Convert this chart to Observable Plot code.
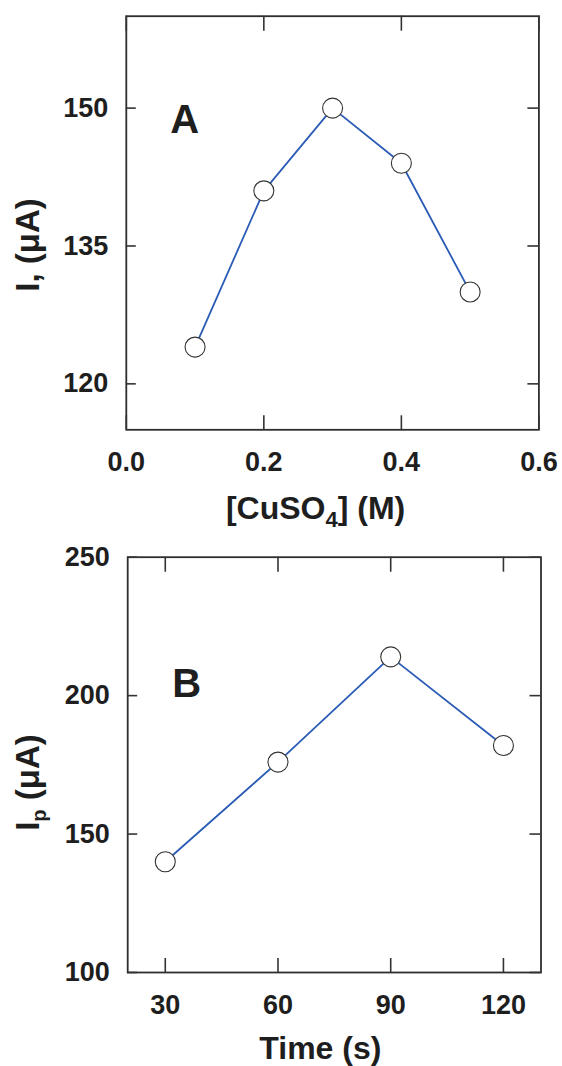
<!DOCTYPE html>
<html>
<head>
<meta charset="utf-8">
<script src="https://cdn.jsdelivr.net/npm/d3@7"></script>
<script src="https://cdn.jsdelivr.net/npm/@observablehq/plot@0.6"></script>
<style>
  html, body { margin: 0; padding: 0; background: #fff; }
  #chart svg { display: block; }
</style>
</head>
<body>
<div id="chart"></div>
<script>
// ---- Data ----
const concA = [0.1, 0.2, 0.3, 0.4, 0.5];          // [CuSO4] (M)
const currentA = [124, 141, 150, 144, 130];       // I (µA)
const timeB = [30, 60, 90, 120];                  // Time (s)
const currentB = [140, 176, 214, 182];            // Ip (µA)

const xTicksA = [0, 0.2, 0.4, 0.6];
const yTicksA = [120, 135, 150];
const xTicksB = [30, 60, 90, 120];
const yTicksB = [100, 150, 200, 250];

const xDomainA = [0, 0.6], yDomainA = [115, 160];
const xDomainB = [20, 130], yDomainB = [100, 250];

const xTitleA = "[CuSO4] (M)", yTitleA = "I, (μA)", panelA = "A";
const xTitleB = "Time (s)", yTitleB = "Ip (μA)", panelB = "B";

// ---- Styling ----
const ink = "#1e1e1e";
const frameInk = "#2e2e2e";
const blue = "#2a5bb5";
const font = "'Liberation Sans', Arial, Helvetica, sans-serif";

function panel({xs, ys, xTicks, yTicks, xDomain, yDomain, xFmt, xTitle, yTitle, label,
                height, margins, xTitleDx, xTitleDy, yTitleDx, yTitleDy, labelDx, labelDy}) {
  const data = xs.map((x, i) => ({x, y: ys[i]}));
  const innerW = 562 - margins.marginLeft - margins.marginRight;
  const innerH = height - margins.marginTop - margins.marginBottom;
  const tk = {stroke: "#333", strokeWidth: 1.6};
  const labStyle = {tickSize: 0, fontSize: 27, fontWeight: "bold", fill: ink, label: null};
  return Plot.plot({
    width: 562,
    height,
    ...margins,
    style: {fontFamily: font, color: ink, overflow: "visible"},
    x: {domain: xDomain},
    y: {domain: yDomain},
    marks: [
      Plot.frame({fill: "none", stroke: frameInk, strokeWidth: 1.8}),
      Plot.axisX(xTicks, {anchor: "bottom", tickPadding: 22, tickFormat: xFmt, ...labStyle}),
      Plot.axisY(yTicks, {anchor: "left", tickPadding: 18, ...labStyle}),
      // inward-pointing ticks on all four sides
      Plot.ruleX(xTicks, {x: d => d, insetTop: innerH - 14, ...tk}),
      Plot.ruleX(xTicks, {x: d => d, insetBottom: innerH - 15, ...tk}),
      Plot.ruleY(yTicks, {y: d => d, insetRight: innerW - 10, ...tk}),
      Plot.ruleY(yTicks, {y: d => d, insetLeft: innerW - 11, ...tk}),
      Plot.line(data, {x: "x", y: "y", stroke: blue, strokeWidth: 1.8}),
      Plot.dot(data, {x: "x", y: "y", r: 10, fill: "#fff", stroke: "#333", strokeWidth: 1.1}),
      Plot.text([label], {text: d => d, frameAnchor: "top-left", textAnchor: "start", lineAnchor: "top",
        dx: labelDx, dy: labelDy, fontSize: 40, fontWeight: "bold", fill: ink}),
      Plot.text([xTitle], {text: d => d, frameAnchor: "bottom", textAnchor: "middle", lineAnchor: "middle",
        dx: xTitleDx, dy: xTitleDy, fontSize: 32, fontWeight: "bold", fill: ink}),
      Plot.text([yTitle], {text: d => d, frameAnchor: "left", rotate: -90, textAnchor: "middle", lineAnchor: "middle",
        dx: yTitleDx, dy: yTitleDy, fontSize: 33, fontWeight: "bold", fill: ink})
    ]
  });
}

const svgA = panel({
  xs: concA, ys: currentA, xTicks: xTicksA, yTicks: yTicksA, xDomain: xDomainA, yDomain: yDomainA,
  xFmt: d3.format(".1f"), xTitle: xTitleA, yTitle: yTitleA, label: panelA,
  height: 530,
  margins: {marginLeft: 125.8, marginRight: 23.6, marginTop: 15.7, marginBottom: 100.7},
  xTitleDx: -17, xTitleDy: 78.6, yTitleDx: -98, yTitleDy: 22, labelDx: 44, labelDy: 88
});
const svgB = panel({
  xs: timeB, ys: currentB, xTicks: xTicksB, yTicks: yTicksB, xDomain: xDomainB, yDomain: yDomainB,
  xFmt: d3.format("d"), xTitle: xTitleB, yTitle: yTitleB, label: panelB,
  height: 536,
  margins: {marginLeft: 127.2, marginRight: 21.5, marginTop: 26.7, marginBottom: 94},
  xTitleDx: -14, xTitleDy: 76, yTitleDx: -99, yTitleDy: 17.7, labelDx: 44.5, labelDy: 111
});

// subscripts
function subscript(svg, full, before, sub, after, size, shift) {
  svg.querySelectorAll("text").forEach(t => {
    if (t.textContent === full) {
      while (t.firstChild) t.removeChild(t.firstChild);
      const ns = "http://www.w3.org/2000/svg";
      const a = document.createElementNS(ns, "tspan"); a.textContent = before;
      const b = document.createElementNS(ns, "tspan"); b.textContent = sub;
      b.setAttribute("font-size", size); b.setAttribute("dy", shift);
      const c = document.createElementNS(ns, "tspan"); c.textContent = after;
      c.setAttribute("dy", -shift);
      t.append(a, b, c);
    }
  });
}
subscript(svgA, xTitleA, "[CuSO", "4", "] (M)", 22, 8);
subscript(svgB, yTitleB, "I", "p", " (μA)", 20, 7);

document.getElementById("chart").append(svgA, svgB);
</script>
</body>
</html>
